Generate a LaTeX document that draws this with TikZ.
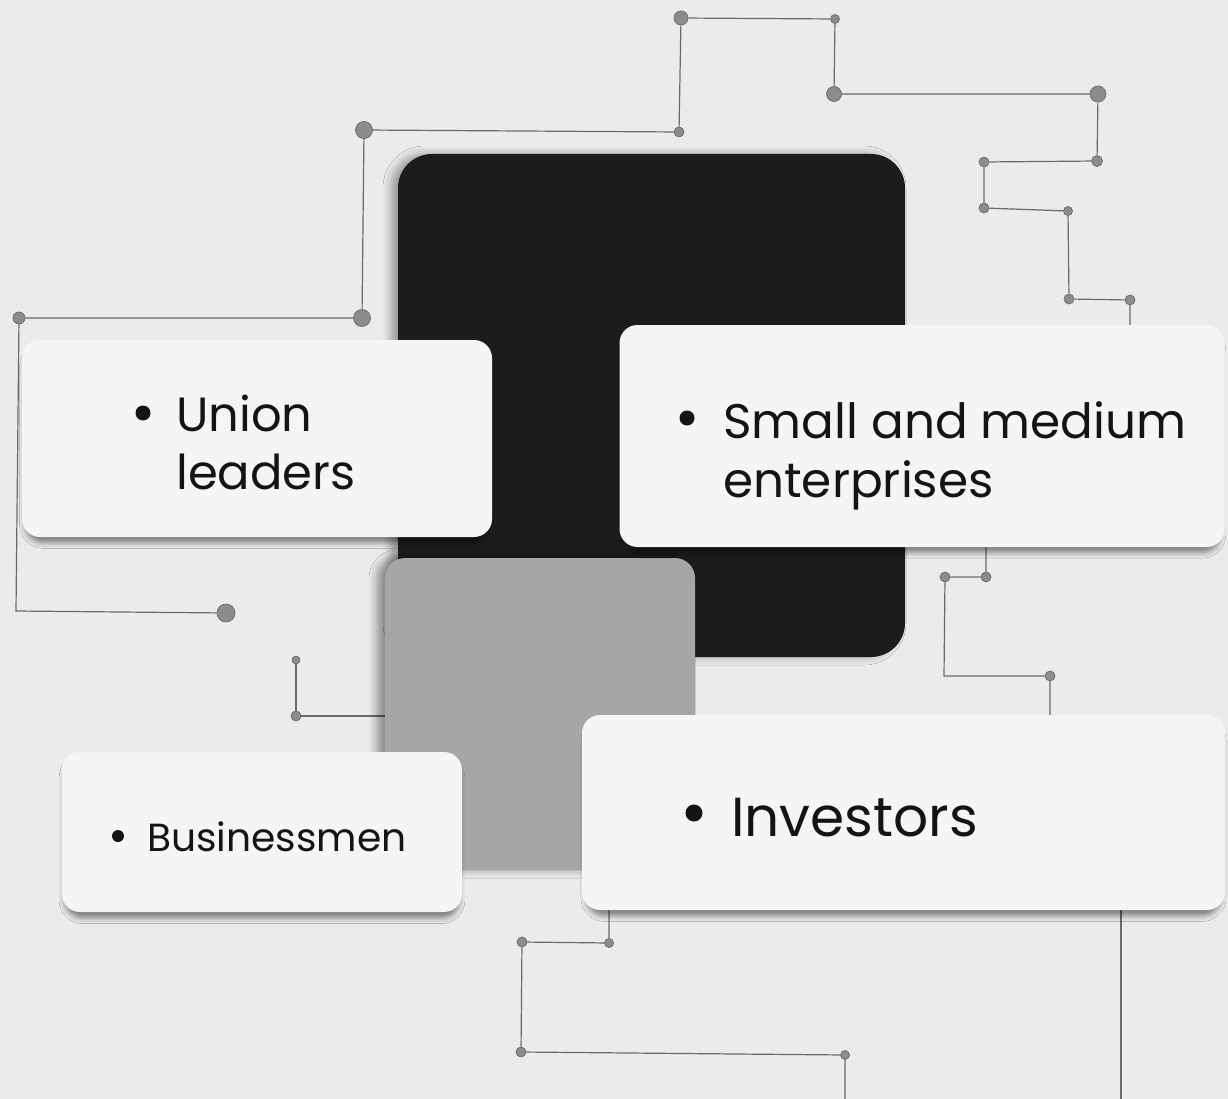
\documentclass[tikz,border=0pt]{standalone}
\usepackage{fontspec}
\setmainfont{Poppins}
\usetikzlibrary{shadows.blur}
\definecolor{bg}{HTML}{EBEBEB}
\definecolor{cardfill}{HTML}{F5F5F5}
\definecolor{darkbox}{HTML}{1C1C1C}
\definecolor{midbox}{HTML}{A6A6A6}
\definecolor{wire}{HTML}{6A6A6A}
\definecolor{dotc}{HTML}{8C8C8C}
\definecolor{ink}{HTML}{141414}
\begin{document}
\begin{tikzpicture}[x=1pt,y=-1pt,
  wireline/.style={draw=wire,line width=1.2pt},
  dotnode/.style={circle,fill=dotc,draw=wire,line width=0.7pt,inner sep=0pt},
  card/.style={fill=cardfill,draw=none,rounded corners=18pt,inner sep=0pt,
    blur shadow={shadow xshift=0pt,shadow yshift=-7pt,shadow scale=0.985,shadow opacity=50,shadow blur radius=6pt}},
  panel/.style={draw=none,inner sep=0pt},
  bul/.style={circle,fill=ink,inner sep=0pt},
  txt/.style={text=ink,inner sep=0pt,anchor=base west}
]
\useasboundingbox (0,0) rectangle (1228,1099);
\fill[bg] (0,0) rectangle (1228,1099);

% ---- circuit dots
\node[dotnode,minimum size=14pt] (p1) at (681,18) {};
\node[dotnode,minimum size=9pt]  (p2) at (835,19) {};
\node[dotnode,minimum size=15pt] (p3) at (834,94) {};
\node[dotnode,minimum size=16pt] (p4) at (1098,94) {};
\node[dotnode,minimum size=11pt] (p5) at (1097,161) {};
\node[dotnode,minimum size=10pt] (p6) at (984,162) {};
\node[dotnode,minimum size=10pt] (p7) at (984,208) {};
\node[dotnode,minimum size=9pt]  (p8) at (1068,211) {};
\node[dotnode,minimum size=10pt] (p9) at (1069,299) {};
\node[dotnode,minimum size=10pt] (p10) at (1130,300) {};
\coordinate (c1) at (1130,335);
\node[dotnode,minimum size=10pt] (p11) at (679,132) {};
\node[dotnode,minimum size=17pt] (p12) at (364,130) {};
\node[dotnode,minimum size=17pt] (p13) at (362,318) {};
\node[dotnode,minimum size=12pt] (p14) at (19,318) {};
\coordinate (c2) at (16,611);
\node[dotnode,minimum size=18pt] (p15) at (226,613) {};
\node[dotnode,minimum size=8pt]  (p16) at (296,660) {};
\node[dotnode,minimum size=10pt] (p17) at (296,716) {};
\coordinate (c3) at (395,716);
\coordinate (c4) at (986,540);
\node[dotnode,minimum size=10pt] (p18) at (986,577) {};
\node[dotnode,minimum size=10pt] (p19) at (945,577) {};
\coordinate (c5) at (944,676);
\node[dotnode,minimum size=10pt] (p20) at (1050,676) {};
\coordinate (c6) at (1050,725);
\coordinate (c7) at (609,900);
\node[dotnode,minimum size=9pt]  (p21) at (609,943) {};
\node[dotnode,minimum size=10pt] (p22) at (522,942) {};
\node[dotnode,minimum size=10pt] (p23) at (521,1052) {};
\node[dotnode,minimum size=9pt]  (p24) at (845,1055) {};
\coordinate (c8) at (845,1099);
\coordinate (c9) at (1121,900);
\coordinate (c10) at (1121,1099);

% ---- wires
\draw[wireline] (p1) -- (p2) -- (p3) -- (p4) -- (p5) -- (p6) -- (p7) -- (p8) -- (p9) -- (p10) -- (c1);
\draw[wireline] (p1) -- (p11) -- (p12) -- (p13) -- (p14) -- (c2) -- (p15);
\draw[wireline] (p16) -- (p17) -- (c3);
\draw[wireline] (c4) -- (p18) -- (p19) -- (c5) -- (p20) -- (c6);
\draw[wireline] (c7) -- (p21) -- (p22) -- (p23) -- (p24) -- (c8);
\draw[wireline] (c9) -- (c10);

% ---- back panels
\node[panel,fill=darkbox,rounded corners=34pt,minimum width=507pt,minimum height=503pt,
  blur shadow={shadow xshift=-7pt,shadow yshift=0pt,shadow opacity=35,shadow blur radius=8pt}]
  (dark) at (651.5,405.5) {};
\node[panel,fill=midbox,rounded corners=20pt,minimum width=310pt,minimum height=312pt,
  blur shadow={shadow xshift=-8pt,shadow yshift=0pt,shadow opacity=40,shadow blur radius=8pt}]
  (mid) at (540,714) {};

% ---- cards
\node[card,minimum width=470pt,minimum height=197pt] (union) at (257,438.5) {};
\node[card,minimum width=605pt,minimum height=222pt] (sme) at (922,436) {};
\node[card,minimum width=400pt,minimum height=160pt] (busi) at (262,832) {};
\node[card,minimum width=643pt,minimum height=195pt] (inv) at (903.5,812.5) {};

% ---- labels
\node[bul,minimum size=15pt] (bu1) at (143,413) {};
\node[txt,font=\fontsize{48}{58}\selectfont] (t1) at (176,431)
  {\begin{tabular}[t]{@{}l@{}}Union\\leaders\end{tabular}};
\node[bul,minimum size=15pt] (bu2) at (687,418) {};
\node[txt,font=\fontsize{48.5}{59}\selectfont] (t2) at (723,438)
  {\begin{tabular}[t]{@{}l@{}}Small and medium\\enterprises\end{tabular}};
\node[bul,minimum size=12pt] (bu3) at (118,836) {};
\node[txt,font=\fontsize{39.2}{47}\selectfont] (t3) at (147,851) {Businessmen};
\node[bul,minimum size=17pt] (bu4) at (694,813) {};
\node[txt,font=\fontsize{55}{64}\selectfont] (t4) at (731,836) {Investors};
\end{tikzpicture}
\end{document}
